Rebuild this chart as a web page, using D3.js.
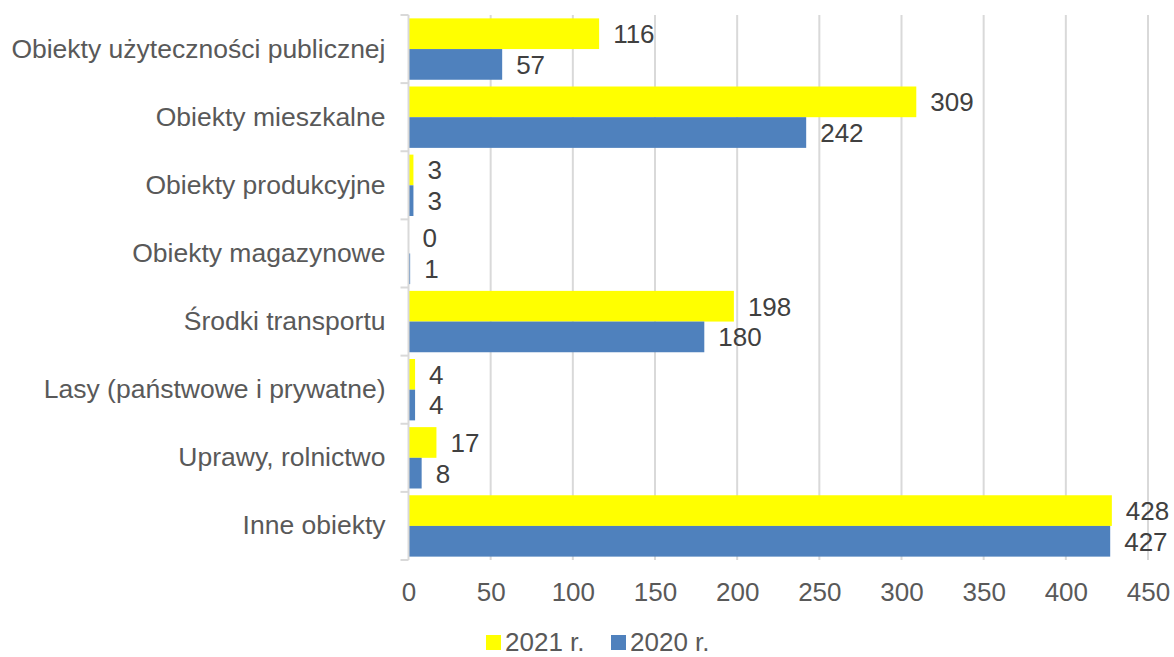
<!DOCTYPE html>
<html>
<head>
<meta charset="utf-8">
<script src="https://cdn.jsdelivr.net/npm/d3@7"></script>
<style>
  body { margin: 0; background: #fff; }
  svg { font-family: "Liberation Sans", Arial, sans-serif; }
</style>
</head>
<body>
<svg width="1174" height="657"></svg>
<script>
const categories = [
  "Obiekty użyteczności publicznej",
  "Obiekty mieszkalne",
  "Obiekty produkcyjne",
  "Obiekty magazynowe",
  "Środki transportu",
  "Lasy (państwowe i prywatne)",
  "Uprawy, rolnictwo",
  "Inne obiekty"
];
const values2021 = [116, 309, 3, 0, 198, 4, 17, 428];
const values2020 = [57, 242, 3, 1, 180, 4, 8, 427];
const seriesNames = ["2021 r.", "2020 r."];
const colors = ["#ffff00", "#4f81bd"];
const xTicks = [0, 50, 100, 150, 200, 250, 300, 350, 400, 450];

const svg = d3.select("svg");
const plotLeft = 408.5, plotRight = 1148, plotTop = 15, plotBottom = 560;

const x = d3.scaleLinear().domain([0, 450]).range([plotLeft, plotRight]);
const y = d3.scaleBand().domain(categories).range([plotTop, plotBottom]);
const inner = d3.scaleBand().domain([0, 1]).range([0, y.bandwidth()])
  .paddingInner(0).paddingOuter(0.11);

// gridlines
svg.append("g")
  .selectAll("line")
  .data(xTicks.slice(1))
  .join("line")
  .attr("x1", d => x(d)).attr("x2", d => x(d))
  .attr("y1", plotTop).attr("y2", plotBottom)
  .attr("stroke", "#d9d9d9").attr("stroke-width", 2);

const rows = categories.map((c, i) => ({ c, vals: [values2021[i], values2020[i]] }));

const groups = svg.append("g")
  .selectAll("g")
  .data(rows)
  .join("g")
  .attr("transform", d => `translate(0,${y(d.c)})`);

groups.selectAll("rect")
  .data(d => d.vals.map((v, k) => ({ v, k })))
  .join("rect")
  .attr("x", x(0))
  .attr("y", d => inner(d.k))
  .attr("width", d => x(d.v) - x(0))
  .attr("height", inner.bandwidth())
  .attr("fill", d => colors[d.k]);

groups.selectAll("text.val")
  .data(d => d.vals.map((v, k) => ({ v, k })))
  .join("text")
  .attr("class", "val")
  .attr("x", d => x(d.v) + 14)
  .attr("y", d => inner(d.k) + inner.bandwidth() / 2)
  .attr("dy", "0.36em")
  .attr("font-size", 26)
  .attr("fill", "#404040")
  .text(d => d.v);

// category axis
const yAxis = svg.append("g")
  .attr("transform", `translate(${plotLeft},0)`)
  .call(d3.axisLeft(y).tickSize(0).tickPadding(23));
yAxis.select(".domain").remove();
yAxis.selectAll("text").attr("font-size", 26.5).attr("fill", "#595959").attr("font-family", null);
yAxis.append("line")
  .attr("x1", 0).attr("x2", 0).attr("y1", plotTop).attr("y2", plotBottom)
  .attr("stroke", "#d9d9d9").attr("stroke-width", 2);
yAxis.selectAll("line.bound")
  .data(d3.range(categories.length + 1))
  .join("line")
  .attr("class", "bound")
  .attr("x1", -8).attr("x2", 0)
  .attr("y1", i => plotTop + i * y.step()).attr("y2", i => plotTop + i * y.step())
  .attr("stroke", "#d9d9d9").attr("stroke-width", 2);

// value axis
const xAxis = svg.append("g")
  .attr("transform", `translate(0,${plotBottom})`)
  .call(d3.axisBottom(x).tickValues(xTicks).tickSize(0).tickPadding(23));
xAxis.select(".domain").remove();
xAxis.selectAll("text").attr("font-size", 26).attr("fill", "#595959").attr("font-family", null);

// legend (nudged up a little so the text box stays inside the frame)
const legend = svg.append("g").attr("transform", "translate(486,635)");
const items = legend.selectAll("g")
  .data(seriesNames)
  .join("g")
  .attr("transform", (d, i) => `translate(${i * 125},0)`);
items.append("rect").attr("width", 15).attr("height", 15).attr("fill", (d, i) => colors[i]);
items.append("text")
  .attr("x", 19).attr("y", 16)
  .attr("font-size", 26).attr("fill", "#595959")
  .text(d => d);
</script>
</body>
</html>
